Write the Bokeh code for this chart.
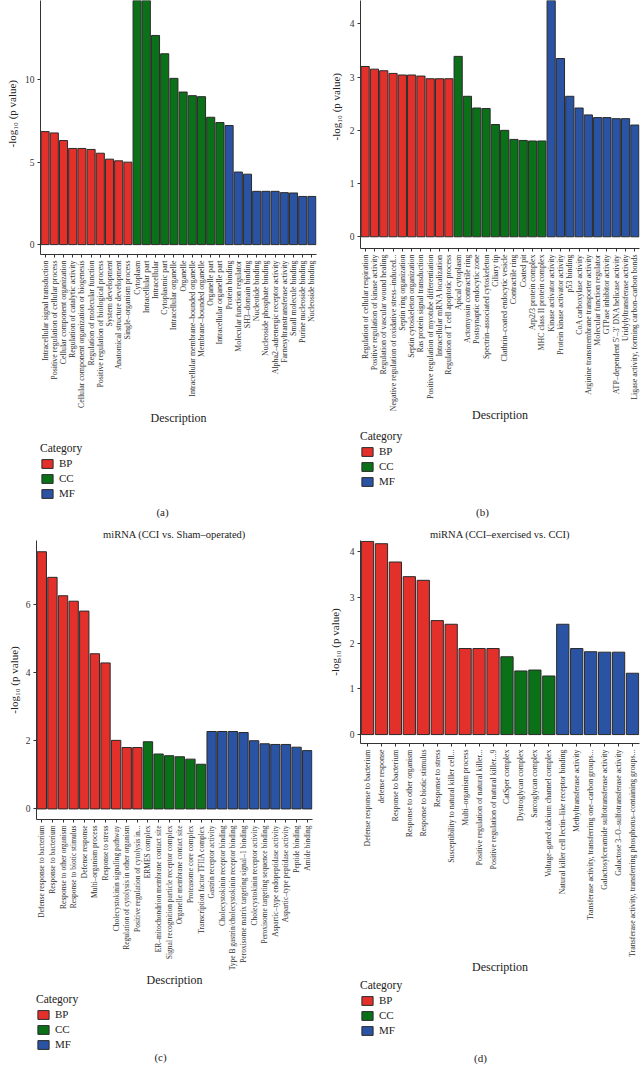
import math
import numpy as np
from bokeh.plotting import figure
from bokeh.layouts import column, row
from bokeh.models import (ColumnDataSource, FactorRange, Range1d, FixedTicker,
                          Legend, LegendItem, Label, Title)
from bokeh.embed import file_html
from bokeh.resources import INLINE

# ---------------- data ----------------
a_bp_terms = ["Intracellular signal transduction", "Positive regulation of cellular process",
              "Cellular component organization", "Regulation of catalytic activity",
              "Cellular component organization or biogenesis", "Regulation of molecular function",
              "Positive regulation of biological process", "System development",
              "Anatomical structure development", "Single\u2013organism process"]
a_bp_vals = [6.85, 6.77, 6.31, 5.83, 5.83, 5.77, 5.54, 5.18, 5.08, 5.00]
a_cc_terms = ["Cytoplasm", "Intracellular part", "Intracellular", "Cytoplasmic part",
              "Intracellular organelle", "Organelle", "Intracellular membrane\u2013bounded organelle",
              "Membrane\u2013bounded organelle", "Organelle part", "Intracellular organelle part"]
a_cc_vals = [15.6, 15.2, 12.68, 11.57, 10.08, 9.25, 9.03, 8.97, 7.72, 7.40]
a_mf_terms = ["Protein binding", "Molecular function regulator", "SH3\u2013domain binding",
              "Nucleotide binding", "Nucleoside phosphate binding",
              "Alpha2\u2013adrenergic receptor activity", "Farnesyltranstransferase activity",
              "Small molecule binding", "Purine nucleoside binding", "Nucleoside binding"]
a_mf_vals = [7.22, 4.40, 4.27, 3.23, 3.23, 3.23, 3.15, 3.13, 2.92, 2.92]
a_ticks = [0, 5, 10]

b_bp_terms = ["Regulation of cellular respiration", "Positive regulation of kinase activity",
              "Regulation of vascular wound healing",
              "Negative regulation of oxidative stress\u2013induced...",
              "Septin ring organization", "Septin cytoskeleton organization",
              "Ras protein signal transduction", "Positive regulation of myotube differentiation",
              "Intracellular mRNA localization", "Regulation of T cell apoptotic process"]
b_bp_vals = [3.20, 3.15, 3.12, 3.07, 3.04, 3.04, 3.02, 2.97, 2.97, 2.97]
b_cc_terms = ["Apical cytoplasm", "Actomyosin contractile ring", "Postsynaptic endocytic zone",
              "Spectrin\u2013associated cytoskeleton", "Ciliary tip",
              "Clathrin\u2013coated endocytic vesicle", "Contractile ring", "Coated pit",
              "Arp2/3 protein complex", "MHC class II protein complex"]
b_cc_vals = [3.39, 2.64, 2.42, 2.41, 2.11, 2.00, 1.83, 1.81, 1.80, 1.80]
b_mf_terms = ["Kinase activator activity", "Protein kinase activator activity", "p53 binding",
              "CoA carboxylase activity", "Arginine transmembrane transporter activity",
              "Molecular function regulator", "GTPase inhibitor activity",
              "ATP\u2013dependent 5\u2032\u20133\u2032 DNA helicase activity",
              "Uridylyltransferase activity", "Ligase activity, forming carbon\u2013carbon bonds"]
b_mf_vals = [4.70, 3.35, 2.64, 2.42, 2.29, 2.24, 2.24, 2.22, 2.22, 2.10]
b_ticks = [0, 1, 2, 3, 4]

c_title = "miRNA (CCI vs. Sham\u2013operated)"
c_bp_terms = ["Defense response to bacterium", "Response to bacterium",
              "Response to other organism", "Response to biotic stimulus", "Defense response",
              "Multi\u2013organism process", "Response to stress",
              "Cholecystokinin signaling pathway", "Regulation of cytolysis in other organism",
              "Positive regulation of cytolysis in..."]
c_bp_vals = [7.54, 6.79, 6.25, 6.09, 5.80, 4.55, 4.28, 2.01, 1.80, 1.80]
c_cc_terms = ["ERMES complex", "ER\u2013mitochondrion membrane contact site",
              "Signal recognition particle receptor complex", "Organelle membrane contact site",
              "Proteasome core complex", "Transcription factor TFIIA complex"]
c_cc_vals = [1.97, 1.61, 1.56, 1.53, 1.46, 1.31]
c_mf_terms = ["Gastrin receptor activity", "Cholecystokinin receptor binding",
              "Type B gastrin/cholecystokinin receptor binding",
              "Peroxisome matrix targeting signal\u20131 binding",
              "Cholecystokinin receptor activity", "Peroxisome targeting sequence binding",
              "Aspartic\u2013type endopeptidase activity", "Aspartic\u2013type peptidase activity",
              "Peptide binding", "Amide binding"]
c_mf_vals = [2.27, 2.27, 2.27, 2.24, 2.00, 1.91, 1.89, 1.89, 1.81, 1.71]
c_ticks = [0, 2, 4, 6]

d_title = "miRNA (CCI\u2013exercised vs. CCI)"
d_bp_terms = ["Defense response to bacterium", "defense response", "Response to bacterium",
              "Response to other organism", "Response to biotic stimulus", "Response to stress",
              "Susceptibility to natural killer cell...", "Multi\u2013organism process",
              "Positive regulation of natural killer...", "Positive regulation of natural killer...9"]
d_bp_vals = [4.22, 4.17, 3.77, 3.45, 3.37, 2.49, 2.41, 1.88, 1.88, 1.88]
d_cc_terms = ["CatSper complex", "Dystroglycan complex", "Sarcoglycan complex",
              "Voltage\u2013gated calcium channel complex"]
d_cc_vals = [1.70, 1.39, 1.41, 1.28]
d_mf_terms = ["Natural killer cell lectin\u2013like receptor binding", "Methyltransferase activity",
              "Transferase activity, transferring one\u2013carbon groups...",
              "Galactosylceramide sulfotransferase activity",
              "Galactose 3\u2013O\u2013sulfotransferase activity",
              "Transferase activity, transferring phosphorus\u2013containing groups..."]
d_mf_vals = [2.41, 1.88, 1.81, 1.80, 1.80, 1.34]
d_ticks = [0, 1, 2, 3, 4]

categories = ["BP", "CC", "MF"]
captions = ["(a)", "(b)", "(c)", "(d)"]
y_title = "-log\u2081\u2080 (p value)"

# ---------------- style ----------------
COLORS = {"BP": "#E3302B", "CC": "#0B7119", "MF": "#2A53A3"}
OUTLINE = "#2a2a2a"
AXIS = "#333333"
TXT = "#222222"
FONT = "Liberation Serif"


def px(v):
    return f"{v:.1f}px"


def make_panel(groups, ticks, ylo, yhi, pw, ph, fl, fr, ft, fb, chart_h, leg_x, leg_top,
               cap_x, cap_y, caption, ylab, title=None, desc_standoff=0, xfont=7.9):
    terms = []
    for t, _, _ in groups:
        terms += t
    W, H, CH = pw, ph, chart_h
    p = figure(x_range=FactorRange(factors=terms), y_range=Range1d(ylo, yhi),
               width=W, height=CH, output_backend="svg", toolbar_location=None, tools="",
               min_border_left=fl, min_border_right=W - fr,
               min_border_top=ft, min_border_bottom=CH - fb)
    p.outline_line_color = None
    p.xgrid.visible = False
    p.ygrid.visible = False
    for t, v, cat in groups:
        src = ColumnDataSource(dict(term=t, value=v))
        p.vbar(x="term", top="value", bottom=0, width=0.88, source=src,
               fill_color=COLORS[cat], line_color=OUTLINE, line_width=1)

    yax = p.yaxis[0]
    yax.ticker = FixedTicker(ticks=ticks)
    yax.minor_tick_line_color = None
    yax.major_tick_out = 3
    yax.major_tick_in = 0
    yax.axis_line_color = AXIS
    yax.major_tick_line_color = AXIS
    yax.major_label_text_font = FONT
    yax.major_label_text_font_size = px(9.5)
    yax.major_label_text_color = "#333333"
    yax.major_label_standoff = 3
    # y title as a side title so that it can be shifted along the axis
    align, offset, standoff = ylab
    p.add_layout(Title(text=y_title, align=align, offset=offset, standoff=standoff,
                       text_font=FONT, text_font_size=px(11), text_font_style="normal",
                       text_color=TXT), "left")

    xax = p.xaxis[0]
    xax.major_label_orientation = math.pi / 2
    xax.major_tick_out = 3
    xax.major_tick_in = 0
    xax.axis_line_color = AXIS
    xax.major_tick_line_color = AXIS
    xax.major_label_text_font = FONT
    xax.major_label_text_font_size = px(xfont)
    xax.major_label_text_color = "#333333"
    xax.major_label_standoff = 3
    xax.axis_label = "Description"
    xax.axis_label_text_font = FONT
    xax.axis_label_text_font_size = px(12)
    xax.axis_label_text_font_style = "normal"
    xax.axis_label_text_color = TXT
    xax.axis_label_standoff = desc_standoff

    if title is not None:
        p.title.text = title
        p.title.align = "center"
        p.title.text_font = FONT
        p.title.text_font_size = px(10.5)
        p.title.text_font_style = "normal"
        p.title.text_color = TXT
        p.title.standoff = 1

    # legend + caption area (below the chart)
    LH = H - CH
    lt = leg_top - CH
    q = figure(width=W, height=LH, x_range=Range1d(0, 1), y_range=Range1d(0, 1),
               x_axis_location=None, y_axis_location=None, output_backend="svg",
               toolbar_location=None, tools="", min_border_left=leg_x, min_border_top=lt,
               min_border_right=0, min_border_bottom=0)
    q.outline_line_color = None
    q.xgrid.visible = False
    q.ygrid.visible = False
    items = []
    for cat in categories:
        # swatch-only renderer: no drawable data, only its legend entry shows
        src = ColumnDataSource(dict(x=np.array([0.5]), top=np.array([np.nan]),
                                    bottom=np.array([np.nan])))
        r = q.vbar(x="x", top="top", bottom="bottom", width=0.5, source=src,
                   fill_color=COLORS[cat], line_color=OUTLINE, line_width=1)
        items.append(LegendItem(label=cat, renderers=[r]))
    leg = Legend(items=items, title="Category", location="top_left", orientation="vertical")
    leg.title_text_font = FONT
    leg.title_text_font_size = px(11.5)
    leg.title_text_font_style = "normal"
    leg.title_text_color = TXT
    leg.title_standoff = 3
    leg.label_text_font = FONT
    leg.label_text_font_size = px(11)
    leg.label_text_color = TXT
    leg.glyph_width = 14
    leg.glyph_height = 11
    leg.label_height = 11
    leg.label_standoff = 5
    leg.spacing = 3
    leg.padding = 0
    leg.margin = 0
    leg.border_line_color = None
    leg.background_fill_alpha = 0
    q.add_layout(leg, "center")
    frame_h = LH - lt
    q.add_layout(Label(x=cap_x - leg_x, y=frame_h - (cap_y - leg_top),
                       x_units="screen", y_units="screen", text=caption,
                       text_align="center", text_baseline="middle", text_font=FONT,
                       text_font_size=px(11), text_color=TXT))
    return column(p, q, spacing=0)


pa = make_panel([(a_bp_terms, a_bp_vals, "BP"), (a_cc_terms, a_cc_vals, "CC"),
                 (a_mf_terms, a_mf_vals, "MF")], a_ticks, -0.6, 14.8,
                320, 526, 37, 316, 0, 254, 436, 40, 442, 162, 511, captions[0],
                ("left", 107, 7))
pb = make_panel([(b_bp_terms, b_bp_vals, "BP"), (b_cc_terms, b_cc_vals, "CC"),
                 (b_mf_terms, b_mf_vals, "MF")], b_ticks, -0.22, 4.44,
                320, 526, 37, 319, 0, 251, 425, 40, 430, 162, 511, captions[1],
                ("left", 108, 10), desc_standoff=-6)
pc = make_panel([(c_bp_terms, c_bp_vals, "BP"), (c_cc_terms, c_cc_vals, "CC"),
                 (c_mf_terms, c_mf_vals, "MF")], c_ticks, -0.31, 7.87,
                320, 542, 33, 312, 14, 297, 464, 36, 467, 160, 530, captions[2],
                ("center", 0, 6), title=c_title, xfont=7.5)
pd_ = make_panel([(d_bp_terms, d_bp_vals, "BP"), (d_cc_terms, d_cc_vals, "CC"),
                  (d_mf_terms, d_mf_vals, "MF")], d_ticks, -0.195, 4.24,
                 320, 542, 38, 319, 10, 260, 450, 40, 453, 160, 531, captions[3],
                 ("center", 0, 11), title=d_title)

layout = column(row(pa, pb, spacing=0), row(pc, pd_, spacing=0), spacing=0)
open("out.html", "w").write(file_html(layout, INLINE, title="GO enrichment"))
